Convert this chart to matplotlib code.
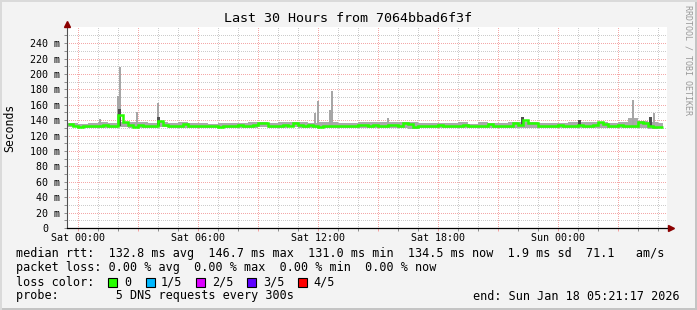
import numpy as np
import matplotlib
matplotlib.use("Agg")
import matplotlib.pyplot as plt
import matplotlib.transforms as mtransforms
from matplotlib.patches import Rectangle

# ===============================
# DATA (ms, hours relative to Sat 00:00)
# ===============================
median_start = -0.5   # one sample every 15 min
median_rtt = [
    134.5, 132, 131.5, 132, 133, 133, 133, 134, 132, 133,
    147, 137, 134, 131.5, 134, 133, 133, 132, 139, 134,
    132, 133, 132, 135, 133, 132, 133, 133, 133, 132,
    131.5, 133, 132, 133, 134, 133, 132, 134, 136, 136,
    133, 133, 132, 134, 133, 136, 134, 133, 134, 132,
    131.5, 132, 132, 133, 132, 133, 132, 133, 134, 134,
    133, 134, 133, 133, 134, 134, 133, 136, 135, 131,
    133, 133, 132, 133, 134, 133, 132, 133, 133, 134,
    133, 132, 132, 133, 135, 133, 132, 132, 133, 136,
    134, 140, 136, 136, 133, 132, 132, 133, 134, 133,
    132, 132, 134, 133, 133, 134, 138, 135, 133, 133,
    134, 132, 132, 133, 138, 136, 133, 131, 131,
]

smoke_start = -0.5    # one smoke bin every 30 min
smoke_hi = [
    136, 135, 136, 137, 136, 138, 137, 137, 136, 137,
    136, 137, 136, 136, 135, 136, 136, 136, 137, 138,
    136, 137, 138, 137, 136, 137, 137, 136, 136, 137,
    138, 138, 137, 137, 137, 136, 136, 136, 136, 137,
    135, 137, 136, 136, 137, 138, 138, 136, 136, 136,
    137, 137, 137, 138, 136, 137, 143, 139, 138, 136,
]
smoke_lo = [
    131, 129.5, 130, 130, 130.5, 131, 130, 130.5, 130, 131,
    130, 130.5, 130, 130, 130, 130, 130.5, 130, 130, 131,
    130, 130, 131, 130, 129.5, 130, 130, 130, 130, 130.5,
    130, 129.5, 130, 129.5, 129, 130, 130, 130, 130, 130,
    130, 130, 130, 130, 130, 130.5, 130, 130, 130, 130,
    130, 130, 130, 130, 130, 130, 130, 130, 129, 130,
]

spike_t = [1.1, 2.0, 2.08, 2.95, 4.0, 11.85, 11.97, 12.6, 12.7, 15.5, 27.75, 28.78]
spike_top = [142, 171, 209, 151, 162.5, 149.6, 164.7, 153, 177.7, 142.6, 166, 149.6]

dark_t = [2.05, 4.0, 22.2, 25.05, 28.6]
dark_top = [155, 144, 143.5, 140, 143.5]

tick_hours = [0, 6, 12, 18, 24]
tick_names = ["Sat 00:00", "Sat 06:00", "Sat 12:00", "Sat 18:00", "Sun 00:00"]
y_ticks = list(range(0, 241, 20))
y_names = ["0"] + [f"{v} m" for v in y_ticks[1:]]

loss_names = ["0", "1/5", "2/5", "3/5", "4/5"]
loss_colors = ["#26ff00", "#00b8ff", "#dd00ff", "#5e00ff", "#ff0000"]
loss_box_x = [108, 146, 196, 247, 298]
loss_text_x = [124, 161, 212, 263, 313]

legend_lines = [
    "median rtt:  132.8 ms avg  146.7 ms max  131.0 ms min  134.5 ms now  1.9 ms sd  71.1   am/s",
    "packet loss: 0.00 % avg  0.00 % max  0.00 % min  0.00 % now",
    "loss color:",
    "probe:        5 DNS requests every 300s",
]

# ===============================
# FIGURE
# ===============================
W, H = 697, 310
plt.rcParams["font.family"] = ["DejaVu Sans Mono"]
fig = plt.figure(figsize=(W / 100, H / 100), dpi=100, facecolor="#f3f3f3")

x0, x1, ytop, ybot = 67, 667, 27, 228
ax = fig.add_axes([x0 / W, 1 - ybot / H, (x1 - x0) / W, (ybot - ytop) / H])
ax.set_facecolor("white")
ax.set_xlim(-0.57, 29.43)
ax.set_ylim(0, 261)

# grid (dotted, 1px on / 1px off)
ax.set_xticks(np.arange(0, 29, 3))
ax.set_xticks(np.arange(0, 30, 1), minor=True)
ax.set_yticks(y_ticks)
ax.set_yticks(np.arange(10, 261, 20), minor=True)
ax.grid(which="major", color="#f4a8a8", lw=1.0, ls=(0, (0.72, 1.0)),
        antialiased=False)
ax.grid(which="minor", color="#cccccc", lw=1.0, ls=(0, (0.72, 1.0)),
        antialiased=False)
ax.set_axisbelow(True)

ax.set_xticklabels([tick_names[tick_hours.index(h)] if h in tick_hours else ""
                    for h in range(0, 29, 3)])
ax.set_yticklabels(y_names)
ax.tick_params(axis="both", which="both", labelsize=7.2, length=2.5,
               width=0.72, color="#909090")
ax.tick_params(axis="x", which="major", color="#f4a0a0", pad=1.2)
ax.tick_params(axis="y", pad=2.5)
zero_lbl = ax.get_yticklabels()[0]
zero_lbl.set_transform(zero_lbl.get_transform() +
                       mtransforms.ScaledTranslation(-0.12, 0, fig.dpi_scale_trans))

for s in ax.spines.values():
    s.set_visible(False)

# smoke
smoke_edges = np.minimum(smoke_start + 0.5 * np.arange(len(smoke_hi) + 1), 29.25)
ax.stairs(smoke_hi, smoke_edges, baseline=smoke_lo, fill=True,
          color="#aaaaaa", lw=0, zorder=2)
ax.bar(spike_t, np.array(spike_top) - 133, bottom=133, width=0.1,
       color="#a6a6a6", lw=0, zorder=2)
ax.bar(dark_t, np.array(dark_top) - 132, bottom=132, width=0.14,
       color="#505050", lw=0, zorder=3)

# median
med_edges = median_start + 0.25 * np.arange(len(median_rtt) + 1)
ax.stairs(median_rtt, med_edges, baseline=None, color="#26ff00", lw=1.8, zorder=4)

# axis lines with arrows
ax.plot([0, 0], [0, 1.01], color="#505050", lw=0.8, transform=ax.transAxes,
        clip_on=False, zorder=5)
ax.plot(0, 1.015, marker="^", ms=4, color="#8b0000", mec="#8b0000",
        transform=ax.transAxes, clip_on=False, zorder=6)
ax.plot([0, 1.003], [0, 0], color="black", lw=0.9, transform=ax.transAxes,
        clip_on=False, zorder=5)
ax.plot(1.007, 0, marker=">", ms=4, color="#8b0000", mec="#8b0000",
        transform=ax.transAxes, clip_on=False, zorder=6)

# ===============================
# TEXT
# ===============================
def px(x, y):
    return x / W, 1 - y / H

fig.text(*px(348.5, 19), "Last 30 Hours from 7064bbad6f3f", ha="center",
         va="center", fontsize=9.6)
fig.text(*px(10, 127.5), "Seconds", rotation=90, ha="center", va="center",
         fontsize=8.3)
fig.text(*px(688, 5), "RRDTOOL / TOBI OETIKER", rotation=270, ha="center",
         va="top", fontsize=6, color="#999999")

for line, yy in zip(legend_lines, [254, 268, 282, 296]):
    fig.text(*px(16, yy), line, ha="left", va="center", fontsize=8.47)

for bx, tx, name, col in zip(loss_box_x, loss_text_x, loss_names, loss_colors):
    fig.patches.append(Rectangle(px(bx, 287), 9 / W, 9 / H, facecolor=col,
                                 edgecolor="black", lw=0.8,
                                 transform=fig.transFigure, figure=fig))
    fig.text(*px(tx, 282), name, ha="left", va="center", fontsize=8.47)

fig.text(*px(680, 296), "end: Sun Jan 18 05:21:17 2026", ha="right",
         va="center", fontsize=8.47)

# frame
fig.patches.append(Rectangle((0, 0), 1, 2 / H, facecolor="#c4c4c4", lw=0,
                             transform=fig.transFigure, figure=fig))
fig.patches.append(Rectangle((1 - 2 / W, 0), 2 / W, 1, facecolor="#c4c4c4", lw=0,
                             transform=fig.transFigure, figure=fig))
fig.patches.append(Rectangle((0, 1 - 2 / H), 1, 2 / H, facecolor="#dadada", lw=0,
                             transform=fig.transFigure, figure=fig))
fig.patches.append(Rectangle((0, 0), 2 / W, 1, facecolor="#dadada", lw=0,
                             transform=fig.transFigure, figure=fig))

fig.savefig("out.png", dpi=100, facecolor=fig.get_facecolor())
